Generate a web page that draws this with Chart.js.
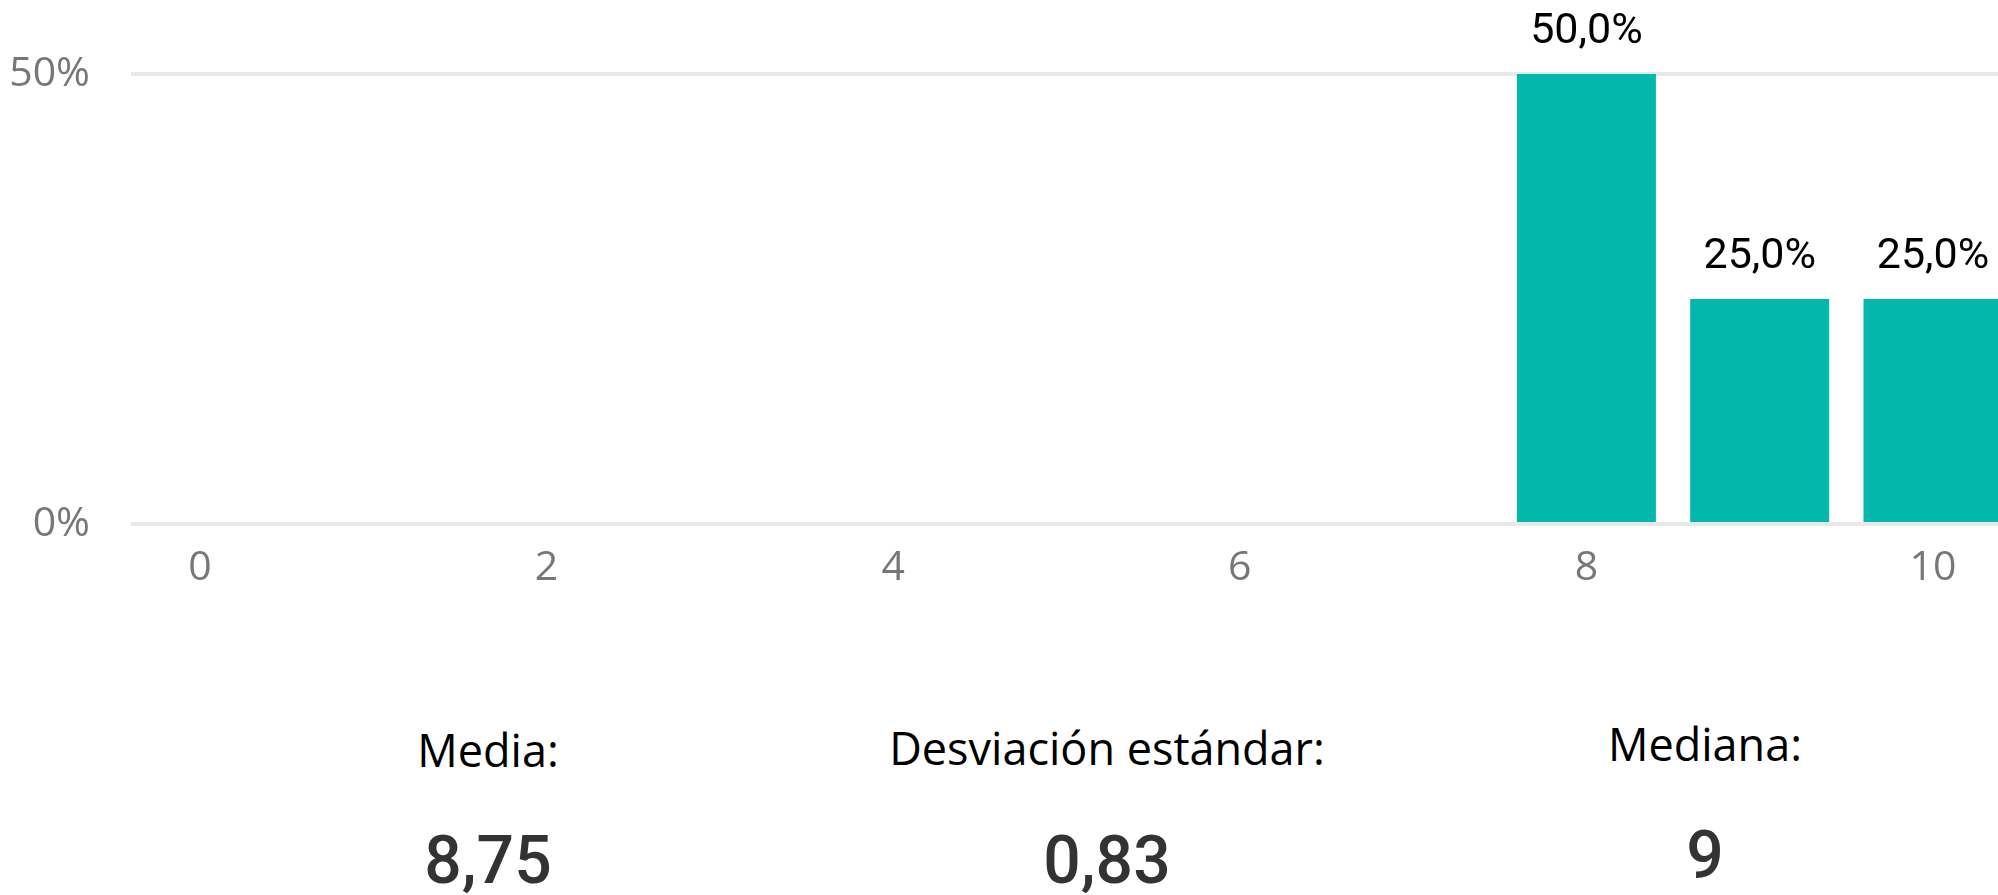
<!DOCTYPE html>
<html>
<head>
<meta charset="utf-8">
<script src="https://cdn.jsdelivr.net/npm/chart.js@4.4.1/dist/chart.umd.min.js"></script>
<style>
  html, body { margin: 0; padding: 0; background: #ffffff; overflow: hidden; width: 1998px; height: 895px; }
  #wrap { position: absolute; left: 0; top: 0; width: 1998px; height: 600px; }
  .stat { position: absolute; transform: translateX(-50%); white-space: nowrap; line-height: 1; }
  .lab { font-family: "Open Sans", "Noto Sans", sans-serif; font-size: 45px; color: #000000; }
  .val { font-family: Roboto, "Noto Sans", sans-serif; font-size: 66px; font-weight: 500; color: #333333; }
</style>
</head>
<body>
<div id="wrap"><canvas id="c"></canvas></div>
<div id="stats"></div>
<script>
// ---- data ----
const categories = [0, 1, 2, 3, 4, 5, 6, 7, 8, 9, 10];
const percentValues = [0, 0, 0, 0, 0, 0, 0, 0, 50, 25, 25];
const xTickValues = [0, 2, 4, 6, 8, 10];
const yTickValues = [0, 50];
const statLabels = ["Media:", "Desviación estándar:", "Mediana:"];
const statValues = ["8,75", "0,83", "9"];

// ---- stats text below chart ----
const statX = [488, 1107, 1705];
const statLabelTop = [727, 725, 721];
const statValueTop = [828, 828, 823];
const statsDiv = document.getElementById('stats');
statLabels.forEach((t, i) => {
  const d = document.createElement('div');
  d.className = 'stat lab';
  d.style.left = statX[i] + 'px';
  d.style.top = statLabelTop[i] + 'px';
  d.textContent = t;
  statsDiv.appendChild(d);
  const v = document.createElement('div');
  v.className = 'stat val';
  v.style.left = statX[i] + 'px';
  v.style.top = statValueTop[i] + 'px';
  v.textContent = statValues[i];
  statsDiv.appendChild(v);
});

// ---- chart ----
const barData = categories.map((c, i) => ({ x: c, y: percentValues[i] }));

const valueLabels = {
  id: 'valueLabels',
  afterDatasetsDraw(chart) {
    const ctx = chart.ctx;
    const meta = chart.getDatasetMeta(0);
    ctx.save();
    ctx.font = '43px Roboto, "Noto Sans", sans-serif';
    ctx.fillStyle = '#000000';
    ctx.textAlign = 'center';
    ctx.textBaseline = 'alphabetic';
    meta.data.forEach((el, i) => {
      const v = percentValues[i];
      if (v > 0) {
        ctx.fillText(v.toFixed(1).replace('.', ',') + '%', el.x, el.y - 31);
      }
    });
    ctx.restore();
  }
};

new Chart(document.getElementById('c'), {
  type: 'bar',
  data: {
    datasets: [{
      data: barData,
      backgroundColor: '#02b8ab',
      borderWidth: 0,
      barPercentage: 0.802,
      categoryPercentage: 1.0
    }]
  },
  options: {
    responsive: true,
    maintainAspectRatio: false,
    animation: false,
    events: [],
    layout: { padding: { top: 74, right: 0, bottom: 0, left: 0 } },
    plugins: { legend: { display: false }, tooltip: { enabled: false } },
    scales: {
      x: {
        type: 'linear',
        offset: false,
        min: -0.398,
        max: 10.375,
        grid: { display: false, drawTicks: false, offset: false },
        border: { display: false },
        afterBuildTicks(scale) { scale.ticks = xTickValues.map(v => ({ value: v })); },
        afterFit(scale) { scale.height = 76; },
        ticks: {
          padding: 20,
          maxRotation: 0,
          autoSkip: false,
          color: '#777777',
          font: { family: '"Open Sans", "Noto Sans", sans-serif', size: 41 },
          callback: v => String(v)
        }
      },
      y: {
        min: 0,
        max: 50,
        grid: { color: '#e8e8e8', lineWidth: 4, drawTicks: false },
        border: { display: false },
        afterBuildTicks(scale) { scale.ticks = yTickValues.map(v => ({ value: v })); },
        afterFit(scale) { scale.width = 131; },
        ticks: {
          padding: 41,
          color: '#777777',
          font: { family: '"Open Sans", "Noto Sans", sans-serif', size: 41 },
          callback: v => v + '%'
        }
      }
    }
  },
  plugins: [valueLabels]
});
</script>
</body>
</html>
